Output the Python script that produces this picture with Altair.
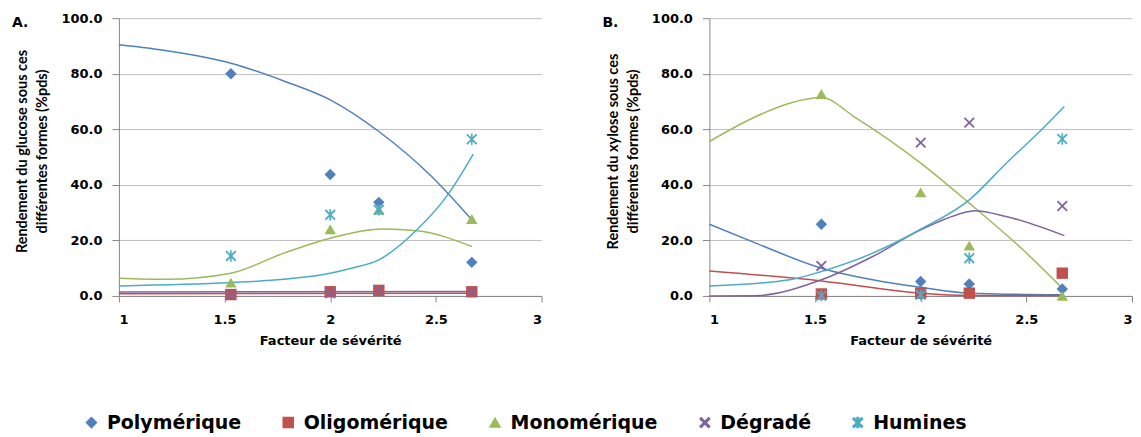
import altair as alt
import pandas as pd
import numpy as np

# ---------------- data ----------------
series = ["Polymérique", "Oligomérique", "Monomérique", "Dégradé", "Humines"]
colors = ["#4F81BD", "#C0504D", "#9BBB59", "#8064A2", "#4BACC6"]

x_pts = [1.53, 2.0, 2.23, 2.67]

# Panel A (glucose)
A_poly = [80.0, 43.7, 33.7, 12.1]
A_oligo = [0.5, 1.5, 2.0, 1.5]
A_mono = [4.8, 24.0, 31.0, 27.7]
A_degr = [0.3, 1.0, 2.0, 1.5]
A_hum = [14.4, 29.2, 31.0, 56.4]

# Panel B (xylose)
B_poly = [25.8, 5.2, 4.3, 2.5]
B_oligo = [0.7, 1.0, 1.0, 8.2]
B_mono = [72.7, 37.3, 18.1, 0.0]
B_degr = [10.8, 55.2, 62.4, 32.4]
B_hum = [0.1, 0.4, 13.6, 56.5]

# Trend curves
A_curves = {
    "Polymérique": ([1.0, 1.25, 1.53, 1.78, 2.0, 2.23, 2.48, 2.67],
                    [90.4, 88.0, 83.8, 77.4, 70.6, 59.2, 43.0, 27.4]),
    "Oligomérique": ([1.0, 2.67], [0.8, 1.0]),
    "Monomérique": ([1.0, 1.22, 1.53, 1.78, 2.0, 2.25, 2.41, 2.67],
                    [6.4, 6.0, 8.2, 15.4, 20.8, 24.1, 23.5, 17.8]),
    "Dégradé": ([1.0, 2.67], [1.4, 1.6]),
    "Humines": ([1.0, 1.53, 1.78, 2.0, 2.1, 2.23, 2.41, 2.556, 2.677],
                [3.6, 4.8, 6.0, 8.2, 10.0, 13.0, 23.8, 36.4, 51.1]),
}
B_curves = {
    "Polymérique": ([1.0, 1.22, 1.53, 1.773, 2.0, 2.23, 2.67],
                    [25.8, 19.0, 10.0, 5.8, 3.1, 1.0, 0.4]),
    "Oligomérique": ([1.0, 1.53, 2.0, 2.23, 2.67], [9.0, 5.4, 1.0, 0.2, 0.2]),
    "Monomérique": ([1.0, 1.22, 1.38, 1.53, 1.695, 2.0, 2.23, 2.484, 2.67],
                    [55.6, 64.6, 69.4, 71.4, 64.0, 47.8, 33.4, 16.6, 2.8]),
    "Dégradé": ([1.0, 1.22, 1.53, 1.773, 2.0, 2.23, 2.255, 2.405, 2.68],
                [0.0, 0.1, 5.8, 14.2, 23.8, 30.4, 30.7, 28.6, 21.7]),
    "Humines": ([1.0, 1.38, 1.53, 1.773, 2.0, 2.23, 2.405, 2.579, 2.68],
                [3.6, 5.8, 8.8, 15.4, 24.0, 34.6, 47.8, 60.4, 68.2]),
}

x_ticks = [1, 1.5, 2, 2.5, 3]
y_ticks = [0, 20, 40, 60, 80, 100]

# ---------------- marker shapes ----------------
def rect(d, h, w):
    d = np.array(d, float); d = d / np.linalg.norm(d)
    n = np.array([-d[1], d[0]])
    pts = [h * d + w * n, h * d - w * n, -h * d - w * n, -h * d + w * n]
    return "M" + "L".join(f"{p[0]:.3f},{p[1]:.3f}" for p in pts) + "Z"

x_path = rect((1, 1), 1.2, 0.16) + rect((1, -1), 1.2, 0.16)
star_path = x_path + rect((0, 1), 1.0, 0.14)
shapes = ["diamond", "square", "triangle-up", x_path, star_path]

HFONT = "DejaVu Sans"   # horizontal texts
VFONT = "Lato"          # rotated axis titles

def points_df(vals):
    rows = []
    for s, v in zip(series, vals):
        for x, y in zip(x_pts, v):
            rows.append({"serie": s, "x": x, "y": y})
    return pd.DataFrame(rows)

def curves_df(curves):
    rows = []
    for s in series:
        xs, ys = curves[s]
        for i, (x, y) in enumerate(zip(xs, ys)):
            rows.append({"serie": s, "x": x, "y": y, "o": i})
    return pd.DataFrame(rows)

legend = alt.Legend(title=None, orient="none", legendX=-37, legendY=395,
                    direction="horizontal", labelFont=HFONT, labelFontSize=19,
                    labelFontWeight="bold", labelColor="black", symbolSize=100,
                    columnPadding=37, labelOffset=6, symbolType="circle")

color_scale = alt.Scale(domain=series, range=colors)
shape_scale = alt.Scale(domain=series, range=shapes)

def panel(pts, curves, ytitle, letter):
    xenc = alt.X("x:Q", scale=alt.Scale(domain=[1, 3], nice=False),
                 axis=alt.Axis(values=x_ticks, format=".1~f", grid=False,
                               title="Facteur de sévérité"))
    yenc = alt.Y("y:Q", scale=alt.Scale(domain=[0, 100], nice=False),
                 axis=alt.Axis(values=y_ticks, format=".1f", grid=True,
                               title=ytitle, titleX=-89, titleY=133))
    lines = alt.Chart(curves_df(curves)).mark_line(
        interpolate="monotone", strokeWidth=1.5).encode(
        x=xenc, y=yenc,
        color=alt.Color("serie:N", scale=color_scale, legend=legend),
        order="o:Q")
    dots = alt.Chart(points_df(pts)).mark_point(filled=True, size=130, opacity=1).encode(
        x=xenc, y=yenc,
        color=alt.Color("serie:N", scale=color_scale, legend=legend),
        shape=alt.Shape("serie:N", scale=shape_scale, legend=legend))
    lab = alt.Chart(pd.DataFrame({"t": [letter]})).mark_text(
        font=HFONT, fontSize=14, fontWeight="bold", align="left",
        baseline="alphabetic", color="black").encode(
        x=alt.value(-107), y=alt.value(8.5), text="t:N")
    return alt.layer(lines, dots, lab).properties(width=423, height=278)

pA = panel([A_poly, A_oligo, A_mono, A_degr, A_hum], A_curves,
           ["Rendement du glucose sous ces", "différentes formes (%pds)"], "A.")
pB = panel([B_poly, B_oligo, B_mono, B_degr, B_hum], B_curves,
           ["Rendement du xylose sous ces", "différentes formes (%pds)"], "B.")

chart = alt.hconcat(pA, pB, spacing=60).resolve_scale(
    color="shared", shape="shared").properties(
    padding={"left": 4, "top": 4, "right": 0, "bottom": 0}
).configure_view(stroke=None).configure_axis(
    labelFont=HFONT, labelFontSize=13, labelFontWeight="bold", labelColor="black",
    titleFont=HFONT, titleFontSize=13, titleFontWeight="bold", titleColor="black",
    domainColor="#868686", tickColor="#868686",
    gridColor="#BFBFBF"
).configure_axisY(titleFont=VFONT, titleFontSize=14.5, titleLineHeight=20,
                  tickSize=7, labelPadding=10
).configure_axisX(titlePadding=8, tickSize=6, labelPadding=12)

chart.save("out.html", embed_options={"renderer": "svg", "actions": False})
